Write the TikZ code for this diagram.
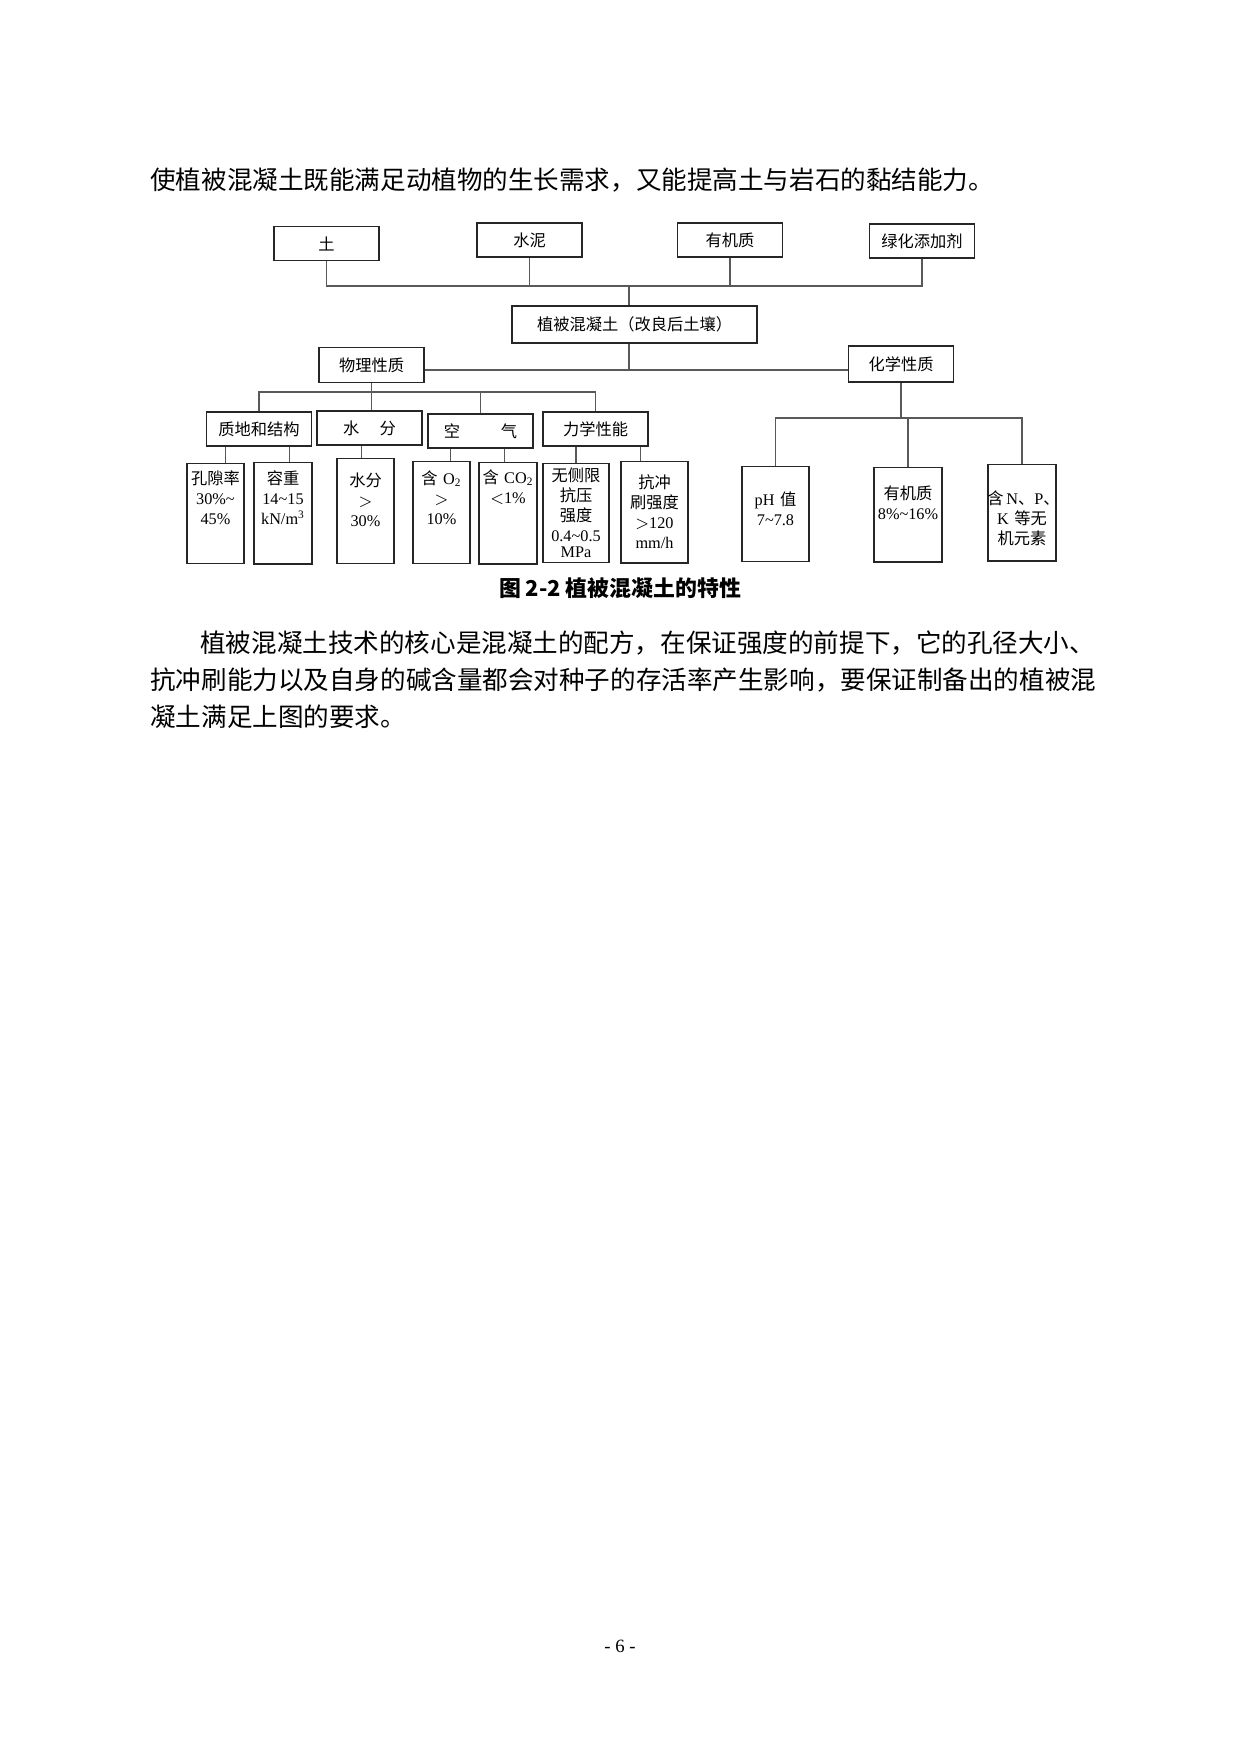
\documentclass[tikz,border=0pt]{standalone}
\usepackage{fontspec}
\setmainfont{Noto Sans CJK SC}
\newfontfamily\latfont{Liberation Serif}
\newcommand{\lat}[1]{{\latfont #1}}
\tikzstyle{box}=[draw=black!85, line width=0.7pt, inner sep=0pt, minimum width=50.4pt, minimum height=16.3pt, font=\fontsize{7.8pt}{9.6pt}\selectfont]
\tikzstyle{leaf}=[box, anchor=north, align=center, minimum width=0pt, minimum height=0pt]
\tikzstyle{link}=[black!65, line width=0.5pt]
\tikzstyle{body}=[anchor=west, inner sep=0pt, font=\fontsize{12.27pt}{14pt}\selectfont]

\begin{document}
\begin{tikzpicture}[x=0.48pt,y=-0.48pt]
\fill[white] (0,0) rectangle (1240,1754);
\useasboundingbox (0,0) rectangle (1240,1754);

\node (l0) at (150,180) [body] {使植被混凝土既能满足动植物的生长需求，又能提高土与岩石的黏结能力。};

\node (tu)     at (326.5,243.5) [box] {土};
\node (shuini) at (529.5,240)   [box] {水泥};
\node (youji)  at (730,240)     [box] {有机质};
\node (lvhua)  at (922,241)     [box] {绿化添加剂};
\node (mid)    at (634.5,324.5) [box, minimum width=117.6pt, minimum height=17.8pt] {植被混凝土（改良后土壤）};
\node (wuli)   at (371.5,365)   [box, minimum height=16.8pt] {物理性质};
\node (huaxue) at (901,364)     [box, minimum height=17.3pt] {化学性质};

\node (zhidi)   at (259,429)   [box] {质地和结构};
\node (shuifen) at (369.5,428) [box] {水\hspace{1.25em}分};
\node (kongqi)  at (480.5,431) [box] {空\hspace{2.5em}气};
\node (lixue)   at (595.5,429) [box] {力学性能};

\node (kongxi)    at (215.5,463) [leaf, text width=27.4pt, text height=10.1pt, text depth=37.9pt] {孔隙率\\\lat{30\%\textasciitilde}\\\lat{45\%}};
\node (rongzhong) at (283,462)   [leaf, text width=27.8pt, text height=10.6pt, text depth=37.9pt] {容重\\\lat{14\textasciitilde 15}\\\lat{kN/m\textsuperscript{3}}};
\node (hanshui)   at (365.5,458) [leaf, text width=27.4pt, text height=13.4pt, text depth=37.0pt] {水分\\$>$\\\lat{30\%}};
\node (hanO)      at (441.5,461) [leaf, text width=27.4pt, text height=11.0pt, text depth=37.9pt] {含 \lat{O\textsubscript{2}}\\$>$\\\lat{10\%}};
\node (hanCO)     at (508,462)   [leaf, text width=27.8pt, text height=10.1pt, text depth=38.4pt] {含 \lat{CO\textsubscript{2}}\\\lat{$<$1\%}};
\node (wuce)      at (576,463)   [leaf, text width=31.7pt, text height=8.6pt, text depth=38.9pt] {无侧限\\抗压\\强度\\\lat{0.4\textasciitilde 0.5}\\[-2pt]\lat{MPa}};
\node (kangchong) at (654.5,461) [leaf, text width=32.2pt, text height=13.0pt, text depth=35.5pt] {抗冲\\刷强度\\\lat{$>$120}\\\lat{mm/h}};

\node (ph)        at (775.5,466) [leaf, text width=32.2pt, text height=18.7pt, text depth=26.9pt] {\lat{pH} 值\\\lat{7\textasciitilde 7.8}};
\node (youjizhi)  at (908,467)   [leaf, text width=32.6pt, text height=15.4pt, text depth=29.8pt] {有机质\\\lat{8\%\textasciitilde 16\%}};
\node (hanN)      at (1022,464)  [leaf, text width=32.6pt, text height=19.2pt, text depth=26.9pt] {\makebox[32.6pt]{\hspace{1.5pt}含\,\lat{N}、\lat{P}、}\\\lat{K} 等无\\机元素};

\coordinate (j1) at (629,286);
\coordinate (j2) at (629,370);
\coordinate (j3) at (371.5,392);
\coordinate (j4) at (901,418);

\draw[link] (tu.south) -- (tu.south |- j1) -- (lvhua.south |- j1) -- (lvhua.south);
\draw[link] (shuini.south) -- (shuini.south |- j1);
\draw[link] (youji.south) -- (youji.south |- j1);
\draw[link] (j1) -- (j1 |- mid.north);
\draw[link] (j2 |- mid.south) -- (j2);
\draw[link] (wuli.east |- j2) -- (huaxue.west |- j2);

\draw[link] (zhidi.north) -- (zhidi.north |- j3) -- (lixue.north |- j3) -- (lixue.north);
\draw[link] (kongqi.north) -- (kongqi.north |- j3);
\draw[link] (wuli.south) -- (wuli.south |- shuifen.north);

\draw[link] ([xshift=4.6pt]kongxi.north) -- ([xshift=4.6pt]kongxi.north |- zhidi.south);
\draw[link] ([xshift=2.9pt]rongzhong.north) -- ([xshift=2.9pt]rongzhong.north |- zhidi.south);
\draw[link] ([xshift=-1.7pt]hanshui.north) -- ([xshift=-1.7pt]hanshui.north |- shuifen.south);
\draw[link] ([xshift=4.1pt]hanO.north) -- ([xshift=4.1pt]hanO.north |- kongqi.south);
\draw[link] ([xshift=-1.9pt]hanCO.north) -- ([xshift=-1.9pt]hanCO.north |- kongqi.south);
\draw[link] (wuce.north) -- (wuce.north |- lixue.south);
\draw[link] ([xshift=-6.5pt]kangchong.north) -- ([xshift=-6.5pt]kangchong.north |- lixue.south);

\draw[link] (huaxue.south) -- (j4);
\draw[link] (ph.north) -- (ph.north |- j4) -- (hanN.north |- j4) -- (hanN.north);
\draw[link] (youjizhi.north) -- (youjizhi.north |- j4);

\node (caption) at (620,588) [font=\bfseries\fontsize{10.5pt}{12pt}\selectfont] {图 2-2 植被混凝土的特性};

\node (l1) at (200,643) [body] {植被混凝土技术的核心是混凝土的配方，在保证强度的前提下，它的孔径大小、};
\node (l2) at (150,680) [body] {抗冲刷能力以及自身的碱含量都会对种子的存活率产生影响，要保证制备出的植被混};
\node (l3) at (150,717) [body] {凝土满足上图的要求。};

\node (page) at (620,1646) [font=\latfont\fontsize{9pt}{10pt}\selectfont] {- 6 -};
\end{tikzpicture}
\end{document}
